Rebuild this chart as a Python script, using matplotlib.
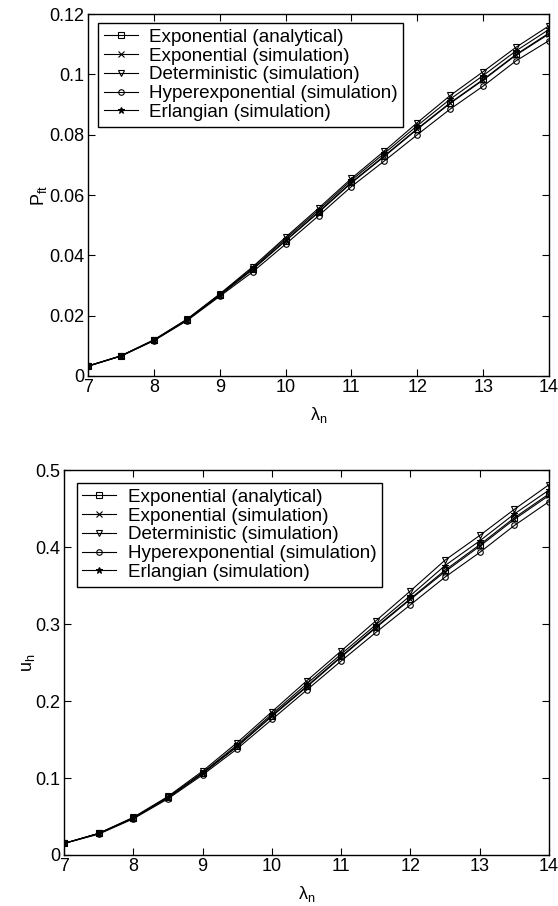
import matplotlib
matplotlib.use("Agg")
from matplotlib import pyplot as plt
from matplotlib.ticker import FuncFormatter
import numpy as np

plt.rcParams['font.family'] = ['Liberation Sans', 'DejaVu Sans']
plt.rcParams['mathtext.default'] = 'regular'
plt.rcParams['font.size'] = 13

lam = np.array([7, 7.5, 8, 8.5, 9, 9.5, 10, 10.5, 11, 11.5, 12, 12.5, 13, 13.5, 14])

# P_ft
pft_exp_an = [0.0033, 0.0066, 0.0118, 0.0185, 0.0268, 0.0354, 0.0449, 0.0544, 0.0642, 0.0730, 0.0820, 0.0906, 0.0983, 0.1066, 0.1137]
pft_exp_sim = [0.0033, 0.0066, 0.0118, 0.0185, 0.0267, 0.0353, 0.0448, 0.0542, 0.0640, 0.0728, 0.0818, 0.0904, 0.0981, 0.1064, 0.1134]
pft_det = [0.0033, 0.0067, 0.0120, 0.0188, 0.0272, 0.0362, 0.0460, 0.0556, 0.0655, 0.0746, 0.0840, 0.0930, 0.1009, 0.1090, 0.1161]
pft_hyp = [0.0032, 0.0066, 0.0117, 0.0183, 0.0264, 0.0345, 0.0437, 0.0531, 0.0628, 0.0713, 0.0800, 0.0885, 0.0961, 0.1045, 0.1112]
pft_erl = [0.0033, 0.0067, 0.0119, 0.0187, 0.0270, 0.0358, 0.0455, 0.0550, 0.0649, 0.0738, 0.0830, 0.0918, 0.0996, 0.1078, 0.1149]

# u_h
uh_exp_an = [0.015, 0.028, 0.048, 0.075, 0.106, 0.141, 0.181, 0.219, 0.258, 0.296, 0.333, 0.370, 0.403, 0.438, 0.469]
uh_exp_sim = [0.015, 0.028, 0.048, 0.074, 0.106, 0.141, 0.180, 0.218, 0.257, 0.295, 0.332, 0.368, 0.401, 0.436, 0.467]
uh_det = [0.015, 0.028, 0.049, 0.076, 0.109, 0.146, 0.186, 0.226, 0.265, 0.304, 0.343, 0.383, 0.415, 0.449, 0.481]
uh_hyp = [0.015, 0.027, 0.047, 0.073, 0.104, 0.138, 0.176, 0.214, 0.252, 0.289, 0.325, 0.361, 0.393, 0.428, 0.459]
uh_erl = [0.015, 0.028, 0.048, 0.075, 0.107, 0.143, 0.183, 0.222, 0.261, 0.299, 0.337, 0.376, 0.408, 0.443, 0.474]

labels = ['Exponential (analytical)', 'Exponential (simulation)', 'Deterministic (simulation)',
          'Hyperexponential (simulation)', 'Erlangian (simulation)']
markers = ['s', 'x', 'v', 'o', '*']
filled = [False, True, False, False, True]


def draw(ax, series, ylim, yticks, ylabel, ypad, legend_loc):
    for ys, lab, m, f in zip(series, labels, markers, filled):
        ax.plot(lam, ys, color='black', lw=0.8, marker=m, markersize=4 if m != '*' else 5,
                markerfacecolor='black' if f else 'none', markeredgecolor='black',
                markeredgewidth=0.8, label=lab)
    ax.set_xlim(7, 14)
    ax.set_ylim(*ylim)
    ax.set_xticks(range(7, 15))
    ax.set_yticks(yticks)
    ax.yaxis.set_major_formatter(FuncFormatter(lambda v, p: '%g' % round(v, 4)))
    ax.tick_params(direction='in', top=True, right=True, length=5, width=0.8, labelsize=13, pad=2.5)
    for s in ax.spines.values():
        s.set_linewidth(1.0)
    ax.set_xlabel(r'$\lambda_n$', fontsize=13, labelpad=6)
    ax.set_ylabel(ylabel, fontsize=13, labelpad=ypad)
    ax.legend(loc='upper left', bbox_to_anchor=legend_loc, frameon=True, fancybox=False,
              edgecolor='black', framealpha=1, fontsize=13.6, handlelength=1.8,
              handletextpad=0.6, labelspacing=0.08, borderpad=0.3, borderaxespad=0)


fig = plt.figure(figsize=(5.58, 9.06), dpi=100)
ax1 = fig.add_axes([0.1577, 0.585, 0.8262, 0.3995])
ax2 = fig.add_axes([0.1147, 0.0563, 0.8692, 0.4249])

draw(ax1, [pft_exp_an, pft_exp_sim, pft_det, pft_hyp, pft_erl], (0, 0.12),
     [0, 0.02, 0.04, 0.06, 0.08, 0.1, 0.12], r'$P_{ft}$', 0, (0.022, 0.975))
draw(ax2, [uh_exp_an, uh_exp_sim, uh_det, uh_hyp, uh_erl], (0, 0.5),
     [0, 0.1, 0.2, 0.3, 0.4, 0.5], r'$u_h$', -1, (0.026, 0.966))

fig.savefig('out.png', dpi=100)
